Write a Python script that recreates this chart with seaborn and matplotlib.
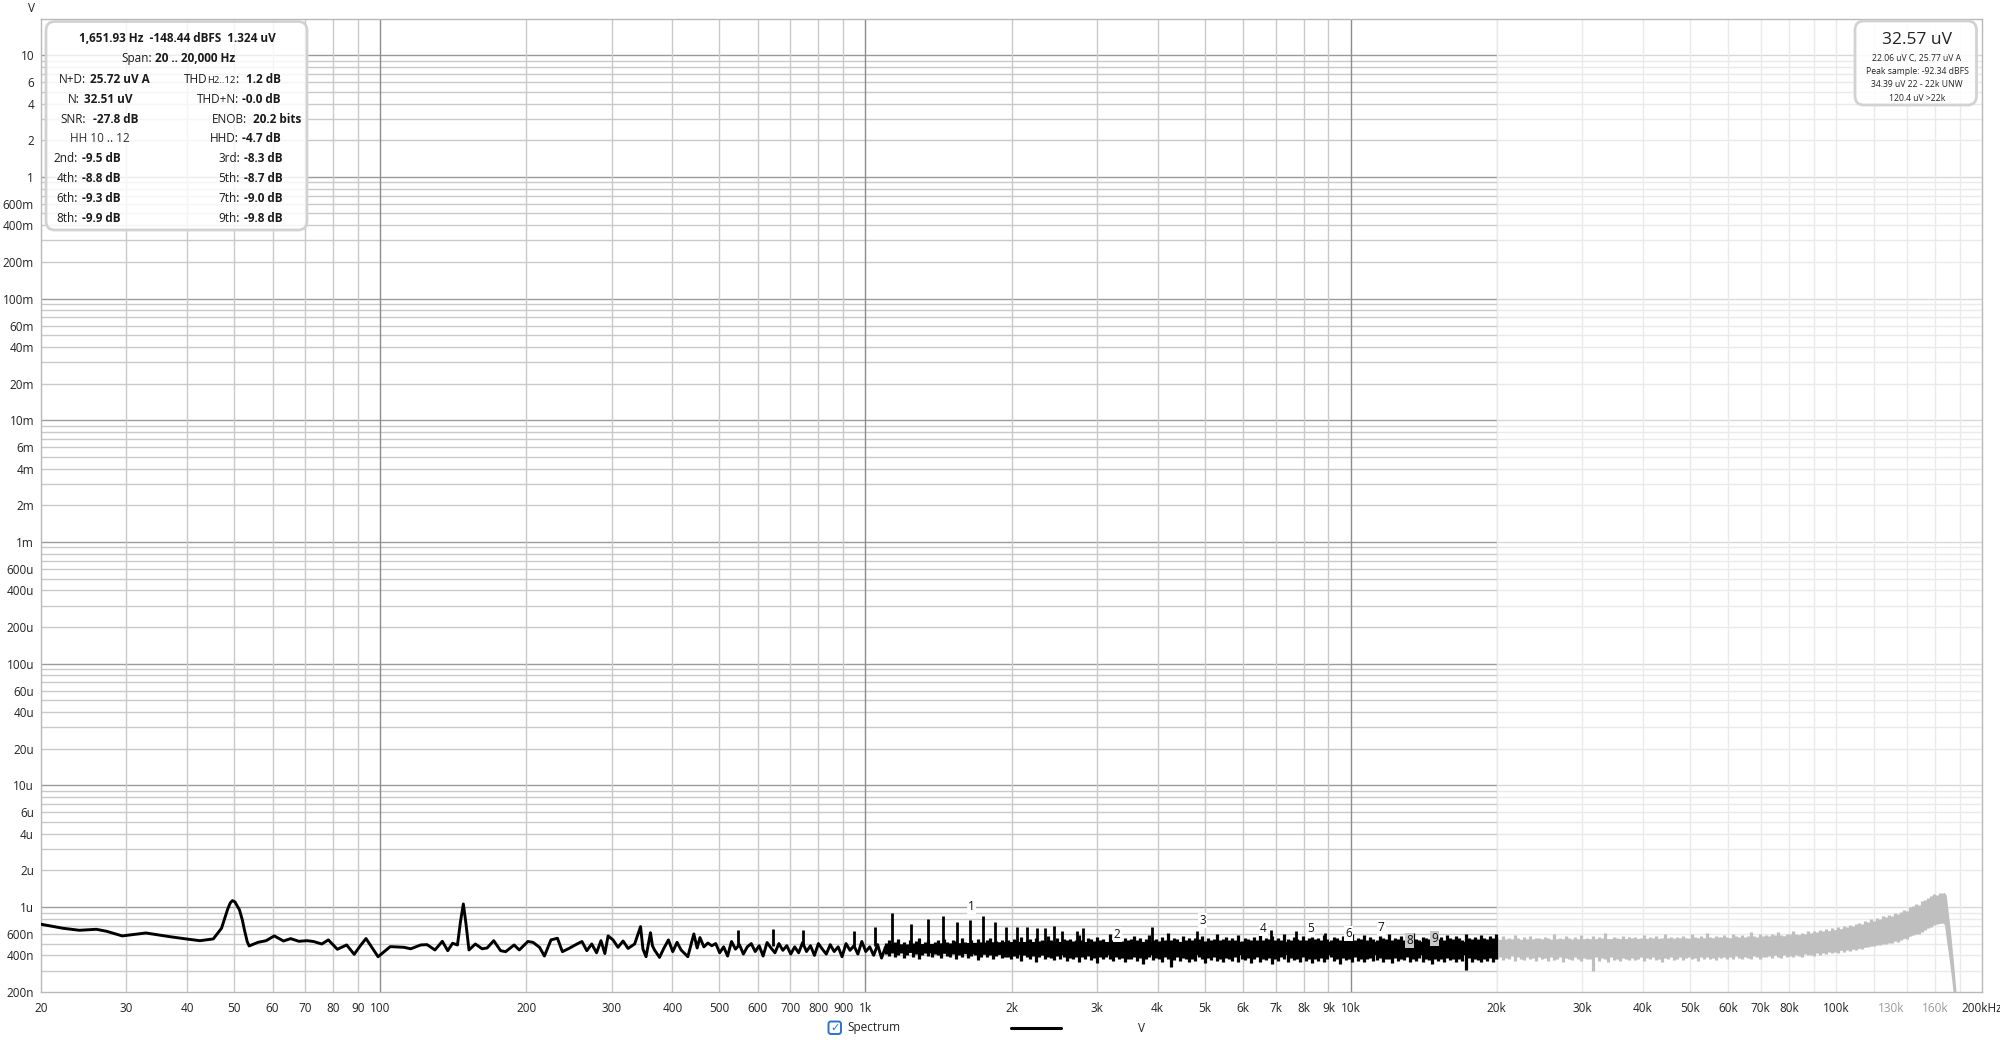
import numpy as np
import pandas as pd
import matplotlib
matplotlib.use("Agg")
import matplotlib.pyplot as plt
import seaborn as sns
from matplotlib.patches import FancyBboxPatch
from matplotlib.lines import Line2D

# ---------------- data ----------------
# low-frequency part of the spectrum (Hz, nV) - drawn as a line
lf_freq = [20, 22.2, 24, 26, 27.3, 29.4, 32.9, 36.8, 39.8, 42.5, 45.3, 47.1, 47.8, 48.5, 49.1, 49.6,
           50.2, 50.8, 51.3, 52, 52.5, 53.2, 53.7, 56, 58.2, 60.5, 63.2, 65.4, 68, 70.7, 72.9, 75.8,
           78.2, 81.6, 85.3, 88.4, 91, 93.5, 96, 99, 104.9, 111.9, 115.6, 121.2, 124.9, 129.7, 134.3,
           137.8, 141, 144.3, 146.4, 148.4, 150.3, 152.4, 157.1, 162.2, 166.1, 171.4, 177.1, 181.4,
           188.8, 193.5, 201.5, 206.5, 213, 218, 224.9, 231.9, 237.4, 244.9, 254.5, 260.5, 266.6,
           272.9, 279.2, 285.1, 290.4, 294.9, 301.9, 309.1, 316.6, 324.2, 334.5, 344, 348, 353.1,
           360.6, 364, 367.6, 376.4, 384.1, 392.7, 400.8, 409.1, 417, 430.5, 443, 450]
lf_nv = [721, 668, 643, 655, 631, 578, 611, 570, 546, 528, 546, 668, 800, 960, 1080, 1127,
         1100, 1010, 945, 780, 650, 520, 478, 512, 528, 578, 525, 549, 522, 528, 520, 496,
         536, 449, 487, 408, 480, 550, 470, 390, 472, 466, 453, 487, 490, 443, 522,
         437, 503, 487, 760, 1058, 720, 443, 496, 453, 460, 528, 437, 429,
         487, 443, 520, 512, 466, 395, 536, 553, 429, 456, 496, 520, 437,
         496, 420, 528, 414, 578, 536, 466, 525, 456, 496, 689, 450, 390,
         614, 480, 443, 385, 456, 536, 429, 512, 443, 390, 600, 460]

# 455 Hz .. 1.1 kHz, log-spaced bins (nV) - still a line
lowmid_nv = [560, 470, 505, 480, 500, 420, 470, 395, 520, 450, 490, 410, 470, 500, 430, 480,
             395, 510, 460, 420, 500, 440, 480, 410, 470, 420, 510, 430, 480, 400, 500, 450,
             410, 490, 430, 470, 390, 500, 440, 480, 410, 520, 430, 470, 400, 490, 380, 470]

# 1.1 kHz .. 20 kHz noise band: per-bin maximum and minimum (nV, log-spaced bins)
band_top = [505, 530, 495, 520, 545, 500, 515, 490, 535, 510, 525, 560, 500, 515, 540, 495, 520, 530, 505, 550,
            515, 500, 540, 525, 495, 555, 520, 510, 535, 505, 545, 520, 500, 530, 560, 515, 525, 505, 540, 520,
            535, 510, 550, 525, 570, 515, 530, 545, 505, 560, 525, 540, 515, 580, 530, 520, 555, 510, 545, 530,
            550, 525, 540, 590, 530, 515, 560, 545, 525, 570, 535, 550, 520, 600, 540, 530, 565, 525, 555, 540,
            545, 575, 530, 560, 520, 550, 585, 535, 545, 525, 565, 540, 610, 530, 555, 545, 520, 575, 535, 560,
            530, 555, 545, 580, 525, 560, 540, 550, 595, 535, 545, 570, 530, 555, 540, 585, 525, 560, 545, 535,
            565, 540, 590, 530, 555, 545, 575, 535, 560, 540, 600, 545, 530, 565, 550, 540, 580, 535, 555, 570,
            545, 560, 535, 590, 550, 540, 570, 555, 530, 575, 545, 560, 600, 540, 555, 545, 585, 535, 565, 550,
            540, 575, 555, 545, 595, 535, 560, 550, 580, 540, 565, 545, 610, 550, 535, 570, 555, 545, 590, 560,
            550, 565, 540, 585, 555, 545, 575, 560, 540, 600, 555, 545, 570, 550, 590, 560, 545, 575, 555, 600]
band_bot = [410, 395, 420, 385, 405, 415, 380, 400, 425, 390, 410, 375, 400, 420, 395, 385, 410, 400, 380, 415,
            395, 385, 410, 370, 400, 390, 415, 380, 395, 405, 365, 390, 410, 385, 400, 375, 395, 410, 380, 390,
            385, 370, 395, 380, 360, 400, 385, 375, 395, 350, 385, 400, 370, 390, 380, 365, 395, 375, 385, 360,
            380, 370, 390, 355, 385, 375, 395, 365, 380, 345, 385, 370, 390, 375, 360, 385, 370, 380, 350, 375,
            370, 385, 360, 380, 340, 375, 390, 365, 380, 370, 355, 385, 375, 320, 365, 385, 360, 380, 370, 350,
            375, 360, 385, 370, 345, 380, 365, 390, 360, 375, 350, 380, 370, 360, 385, 355, 375, 365, 380, 345,
            370, 385, 355, 375, 365, 380, 340, 375, 360, 385, 370, 350, 380, 365, 375, 355, 385, 360, 370, 345,
            375, 360, 380, 350, 370, 385, 360, 375, 340, 380, 365, 370, 355, 385, 360, 375, 350, 370, 380, 360,
            365, 380, 355, 375, 370, 345, 380, 360, 375, 365, 385, 350, 370, 360, 380, 355, 375, 365, 340, 375,
            360, 375, 350, 380, 365, 370, 355, 375, 360, 305, 380, 355, 370, 365, 350, 375, 360, 380, 355, 370]
band_core_freq = [1100, 2000, 20000]
band_core_lo = [428, 405, 405]
band_core_hi = [492, 520, 522]

# harmonic spikes in the audio band (Hz, nV)
spike_freq = [545, 644, 743, 945, 1047, 1134, 1239, 1345, 1443, 1544, 1646, 1750, 1852, 1944, 2049,
              2150, 2253, 2346, 2446, 2545, 2735, 2810, 3900, 4812, 6844, 7728, 8859]
spike_nv = [649, 660, 645, 640, 690, 888, 725, 792, 843, 757, 782, 843, 748, 689, 681,
            689, 670, 670, 700, 630, 630, 670, 680, 640, 650, 630, 610]

# 20 kHz .. 166 kHz out-of-band noise: per-bin max / min (nV, log-spaced bins)
grey_top = [555, 540, 575, 550, 560, 545, 590, 555, 540, 565, 550, 580, 545, 560, 555,
            545, 570, 555, 540, 600, 550, 560, 545, 575, 555, 540, 565, 550, 585, 545,
            560, 550, 575, 545, 565, 555, 610, 550, 545, 570, 560, 550, 580, 545, 565,
            555, 570, 545, 560, 590, 550, 565, 555, 575, 545, 560, 600, 555, 565, 550,
            570, 555, 580, 560, 550, 595, 565, 555, 575, 560, 615, 565, 555, 580, 570,
            565, 585, 570, 560, 600, 575, 565, 590, 570, 580, 620, 575, 565, 595, 580,
            590, 575, 600, 585, 620, 590, 580, 605, 595, 630, 600, 590, 615, 605, 640,
            610, 635, 620, 650, 630, 660, 640, 675, 650, 690, 665, 700, 680, 715, 700,
            720, 745, 730, 765, 750, 790, 770, 810, 790, 840, 820, 860, 845, 890, 870,
            910, 950, 930, 990, 1010, 1060, 1040, 1110, 1150, 1190, 1230, 1280, 1260, 1300, 1290]
grey_bot = [375, 390, 365, 380, 370, 395, 360, 385, 375, 365, 390, 370, 380, 360, 385,
            370, 380, 360, 390, 365, 375, 385, 355, 380, 370, 365, 385, 375, 360, 380,
            370, 375, 300, 385, 360, 380, 370, 355, 385, 365, 375, 360, 380, 370, 365,
            380, 365, 375, 390, 360, 380, 370, 385, 365, 375, 350, 380, 370, 385, 365,
            375, 385, 365, 380, 390, 370, 380, 360, 385, 375, 390, 370, 380, 365, 385,
            380, 390, 375, 385, 370, 395, 380, 375, 390, 380, 370, 395, 385, 375, 390,
            385, 395, 380, 400, 390, 380, 405, 390, 395, 385, 405, 395, 390, 410, 400,
            405, 395, 415, 405, 420, 410, 425, 415, 430, 420, 440, 430, 445, 435, 450,
            445, 460, 455, 470, 465, 480, 475, 490, 485, 500, 495, 510, 505, 525, 520,
            540, 555, 550, 575, 590, 605, 600, 625, 650, 670, 690, 715, 720, 740, 735]
grey_core_freq = [20000, 72000, 90000, 111000, 137000, 150000, 158000, 166000]
grey_core_lo = [400, 400, 420, 455, 545, 630, 720, 740]
grey_core_hi = [540, 560, 605, 700, 870, 1040, 1230, 1260]
# roll-off above 166 kHz (Hz, max nV, min nV)
tail_freq = [167000, 168000, 169000, 170000, 171000, 172000, 173000, 174000, 175000, 176000]
tail_top = [1290, 1250, 1050, 850, 700, 560, 440, 350, 270, 210]
tail_bot = [740, 720, 600, 500, 430, 360, 300, 250, 200, 160]

# harmonic markers
marker_labels = ["1", "2", "3", "4", "5", "6", "7", "8", "9"]
marker_freq = [1651.93, 3303.9, 4955.8, 6607.7, 8259.7, 9911.6, 11563.5, 13215.4, 14867.4]
marker_nv = [1000, 589, 780, 668, 668, 607, 680, 528, 552]

# axis ticks
xtick_vals = [20, 30, 40, 50, 60, 70, 80, 90, 100, 200, 300, 400, 500, 600, 700, 800, 900,
              1000, 2000, 3000, 4000, 5000, 6000, 7000, 8000, 9000, 10000, 20000, 30000, 40000,
              50000, 60000, 70000, 80000, 100000, 130000, 160000, 200000]
xtick_labels = ["20", "30", "40", "50", "60", "70", "80", "90", "100", "200", "300", "400", "500",
                "600", "700", "800", "900", "1k", "2k", "3k", "4k", "5k", "6k", "7k", "8k", "9k",
                "10k", "20k", "30k", "40k", "50k", "60k", "70k", "80k", "100k", "130k", "160k", "200kHz"]
ytick_vals = [10, 6, 4, 2, 1, 0.6, 0.4, 0.2, 0.1, 0.06, 0.04, 0.02, 0.01, 6e-3, 4e-3, 2e-3, 1e-3,
              6e-4, 4e-4, 2e-4, 1e-4, 6e-5, 4e-5, 2e-5, 1e-5, 6e-6, 4e-6, 2e-6, 1e-6, 6e-7, 4e-7, 2e-7]
ytick_labels = ["10", "6", "4", "2", "1", "600m", "400m", "200m", "100m", "60m", "40m", "20m",
                "10m", "6m", "4m", "2m", "1m", "600u", "400u", "200u", "100u", "60u", "40u", "20u",
                "10u", "6u", "4u", "2u", "1u", "600n", "400n", "200n"]

stats_left = [("N+D:", "25.72 uV A"), ("N:", "32.51 uV"), ("SNR:", " -27.8 dB"), (None, None),
              ("2nd:", "-9.5 dB"), ("4th:", "-8.8 dB"), ("6th:", "-9.3 dB"), ("8th:", "-9.9 dB")]
stats_right = [("THD", "1.2 dB"), ("THD+N:", "-0.0 dB"), ("ENOB:", " 20.2 bits"), ("HHD:", "-4.7 dB"),
               ("3rd:", "-8.3 dB"), ("5th:", "-8.7 dB"), ("7th:", "-9.0 dB"), ("9th:", "-9.8 dB")]

# ---------------- figure ----------------
sns.set_style("white")
plt.rcParams['font.family'] = ['Open Sans', 'DejaVu Sans']

fig = plt.figure(figsize=(20, 10.4), dpi=100)
ax = fig.add_axes([41 / 2000, 1 - 992 / 1040, (1982 - 41) / 2000, (992 - 18.5) / 1040])
ax.set_xscale('log')
ax.set_yscale('log')
ax.set_xlim(20, 200000)
ax.set_ylim(2e-7, 20)

# grid
for d in [1e-7, 1e-6, 1e-5, 1e-4, 1e-3, 1e-2, 1e-1, 1, 10]:
    for m in range(1, 10):
        v = m * d
        if 2e-7 < v < 20:
            ax.axhline(v, color='#9a9a9a' if m == 1 else '#c9c9c9', lw=1.0, zorder=1)
for d in [10, 100, 1000, 10000, 100000]:
    for m in range(1, 10):
        v = m * d
        if 20 < v < 200000:
            ax.axvline(v, color='#8c8c8c' if (m == 1 and d in (100, 1000, 10000)) else '#c9c9c9',
                       lw=1.0, zorder=1)
for v in [120000, 140000, 160000, 180000]:
    ax.axvline(v, color='#c9c9c9', lw=1.0, zorder=1)
ax.axvspan(20000, 200000, facecolor='white', alpha=0.62, lw=0, zorder=1.5)

n9 = 1e-9
# ---- grey out-of-band spectrum ----
grey_freq = np.geomspace(20050, 166000, len(grey_top))
ax.fill_between(grey_core_freq, np.array(grey_core_lo) * n9, np.array(grey_core_hi) * n9,
                color='#bfbfbf', lw=0, zorder=2)
ax.vlines(grey_freq, np.array(grey_bot) * n9, np.array(grey_top) * n9, color='#bfbfbf',
          lw=2.3, zorder=2)
ax.fill_between(tail_freq, np.array(tail_bot) * n9, np.array(tail_top) * n9, color='#bfbfbf',
                lw=1.2, zorder=2)

# ---- black audio-band spectrum ----
band_freq = np.geomspace(1100, 19950, len(band_top))
ax.fill_between(band_core_freq, np.array(band_core_lo) * n9, np.array(band_core_hi) * n9,
                color='black', lw=0, zorder=3)
ax.vlines(band_freq, np.array(band_bot) * n9, np.array(band_top) * n9, color='black',
          lw=2.3, zorder=3)
line_df = pd.DataFrame({"f": np.concatenate([lf_freq, np.geomspace(456, 1100, len(lowmid_nv))]),
                        "v": np.concatenate([lf_nv, lowmid_nv]) * n9})
sns.lineplot(data=line_df, x="f", y="v", ax=ax, color='black', lw=2.1, estimator=None,
             sort=False, zorder=3)
ax.vlines(spike_freq, 4.8e-7, np.array(spike_nv) * n9, color='black', lw=2.0, zorder=3)

for lab, f, v in zip(marker_labels, marker_freq, marker_nv):
    fc = '#c8c8c8' if lab in ("8", "9") else 'white'
    ax.text(f, v * n9, lab, ha='center', va='center', fontsize=8.5, color='#111111', zorder=5,
            bbox=dict(boxstyle='square,pad=0.08', fc=fc, ec='none'))

ax.set_xlabel("")
ax.set_ylabel("")
ax.xaxis.set_minor_locator(matplotlib.ticker.NullLocator())
ax.yaxis.set_minor_locator(matplotlib.ticker.NullLocator())
ax.set_xticks(xtick_vals)
ax.set_xticklabels(xtick_labels)
ax.set_yticks(ytick_vals)
ax.set_yticklabels(ytick_labels)
ax.tick_params(axis='both', which='major', direction='out', length=3, color='#b0b0b0',
               labelsize=8.5, labelcolor='#222222', width=1)
ax.tick_params(axis='x', pad=4)
ax.tick_params(axis='y', pad=2)
for t, lab in zip(ax.get_xticklabels(), xtick_labels):
    if lab in ("130k", "160k"):
        t.set_color('#9a9a9a')
for s in ax.spines.values():
    s.set_color('#b8b8b8')
    s.set_linewidth(1.0)
    s.set_visible(True)

# ---------------- overlay in pixel coordinates ----------------
ov = fig.add_axes([0, 0, 1, 1], zorder=10)
ov.set_xlim(0, 2000)
ov.set_ylim(1040, 0)
ov.axis('off')
ov.patch.set_alpha(0)

ov.text(32, 8, "V", ha='center', va='center', fontsize=8.5, color='#222222')

# stats box
ov.add_patch(FancyBboxPatch((46, 21.5), 261, 208.5, boxstyle="round,pad=0,rounding_size=9",
                            fc=(1, 1, 1, 0.82), ec='#d2d2d2', lw=2))
fs = 8.5
dy = 2.0
ov.text(177, 36.7 + dy, "1,651.93 Hz  -148.44 dBFS  1.324 uV", ha='center', va='center',
        fontsize=fs, fontweight='bold', color='#1a1a1a')
ov.text(152, 56.7 + dy, "Span:", ha='right', va='center', fontsize=fs, color='#1a1a1a')
ov.text(155, 56.7 + dy, "20 .. 20,000 Hz", ha='left', va='center', fontsize=fs, fontweight='bold',
        color='#1a1a1a')
row_y = [77.3, 97.3, 117.3, 136.7, 156, 176, 196, 216]
left_colon = [86, 80, 86, None, 78, 78, 78, 78]
right_colon = [242, 239, 247, 239, 240, 240, 240, 240]
for i, y0 in enumerate(row_y):
    y = y0 + dy
    lab, val = stats_left[i]
    if lab is None:
        ov.text(100, y, "HH 10 .. 12", ha='center', va='center', fontsize=fs, color='#333333')
    else:
        ov.text(left_colon[i], y, lab, ha='right', va='center', fontsize=fs, color='#1a1a1a')
        ov.text(left_colon[i] + 3.5, y, val, ha='left', va='center', fontsize=fs,
                fontweight='bold', color='#1a1a1a')
    lab, val = stats_right[i]
    if lab == "THD":
        ov.text(238.5, y, ":", ha='right', va='center', fontsize=fs, color='#1a1a1a')
        ov.text(236, y + 1.2, "H2..12", ha='right', va='center', fontsize=6.8, color='#1a1a1a')
        ov.text(208, y, "THD", ha='right', va='center', fontsize=fs, color='#1a1a1a')
    else:
        ov.text(right_colon[i], y, lab, ha='right', va='center', fontsize=fs, color='#1a1a1a')
    ov.text(right_colon[i] + 3.5, y, val, ha='left', va='center', fontsize=fs,
            fontweight='bold', color='#1a1a1a')

# readout box (top right)
ov.add_patch(FancyBboxPatch((1855, 21), 121.5, 84, boxstyle="round,pad=0,rounding_size=9",
                            fc=(1, 1, 1, 0.85), ec='#d2d2d2', lw=2))
ov.text(1917, 40, "32.57 uV", ha='center', va='center', fontsize=12.5, color='#222222')
small = ["22.06 uV C, 25.77 uV A", "Peak sample: -92.34 dBFS", "34.39 uV 22 - 22k UNW", "120.4 uV >22k"]
for k, s in enumerate(small):
    ov.text(1917, 58 + k * 13.4, s, ha='center', va='center', fontsize=6.2, color='#222222')

# legend row
ov.add_patch(FancyBboxPatch((828.5, 1021.5), 12.5, 12.5, boxstyle="round,pad=0,rounding_size=2.5",
                            fc='white', ec='#2a74d0', lw=1.4))
ov.text(834.8, 1028.2, "✓", ha='center', va='center', fontsize=8, color='#2a74d0',
        family=['DejaVu Sans'])
ov.text(847, 1028, "Spectrum", ha='left', va='center', fontsize=8.5, color='#222222')
ov.add_line(Line2D([1011, 1061], [1028, 1028], color='black', lw=2.2))
ov.text(1142, 1028, "V", ha='center', va='center', fontsize=8.5, color='#222222')

fig.savefig("out.png", dpi=100)
